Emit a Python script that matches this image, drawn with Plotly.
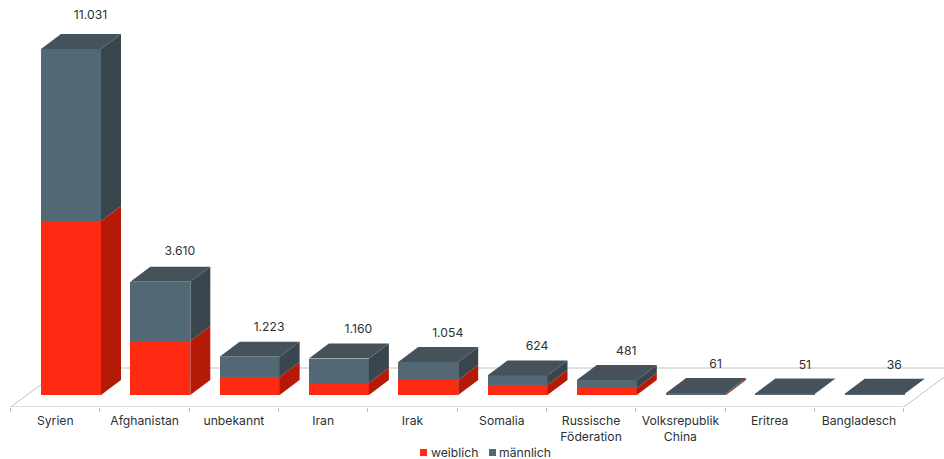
import plotly.graph_objects as go

# Asylum applications by country of origin, split by gender
categories = ["Syrien", "Afghanistan", "unbekannt", "Iran", "Irak", "Somalia",
              "Russische<br>Föderation", "Volksrepublik<br>China", "Eritrea", "Bangladesch"]
totals = [11031, 3610, 1223, 1160, 1054, 624, 481, 61, 51, 36]
weiblich = [5547, 1721, 574, 383, 478, 319, 223, 30, 25, 18]
maennlich = [t - w for t, w in zip(totals, weiblich)]

WIDTH, HEIGHT = 944, 459
FONT = "Inter, 'DejaVu Sans', sans-serif"
FONT_SIZE = 12.2
TEXT = "#2c3135"
GRID = "#c2c2c2"
RED_FRONT, RED_SIDE = "#ff2a12", "#b51a08"
BLUE_FRONT, BLUE_SIDE, BLUE_TOP = "#526874", "#3a464e", "#45525c"

# Axis scale: one category slot is 89.3 px, one application is 0.03137 px
PX_PER_CAT = 89.3
PX_PER_VAL = 0.03137
X_ORIGIN_PX = 55.3
AXIS_PX = 407
ZERO_PX = 395

x_min = -X_ORIGIN_PX / PX_PER_CAT
x_max = (WIDTH - X_ORIGIN_PX) / PX_PER_CAT
y_min = -(AXIS_PX - ZERO_PX) / PX_PER_VAL
y_max = ZERO_PX / PX_PER_VAL

# Oblique projection of the bars and the floor
bar_w = 60 / PX_PER_CAT
shift = 15.7 / PX_PER_CAT
dx = 20 / PX_PER_CAT
dy = 15 / PX_PER_VAL
positions = list(range(len(categories)))
centers = [p + shift for p in positions]

fig = go.Figure()
fig.add_bar(x=centers, y=weiblich, width=bar_w, name="weiblich",
            marker=dict(color=RED_FRONT, line_width=0))
fig.add_bar(x=centers, y=maennlich, width=bar_w, name="männlich",
            marker=dict(color=BLUE_FRONT, line_width=0))


def face(xs, ys, color):
    fig.add_scatter(x=xs, y=ys, mode="lines", fill="toself", fillcolor=color,
                    line=dict(width=0, color=color), hoverinfo="skip", showlegend=False)


for c, w, t in zip(centers, weiblich, totals):
    right = c + bar_w / 2
    left = c - bar_w / 2
    face([right, right + dx, right + dx, right, right], [0, dy, w + dy, w, 0], RED_SIDE)
    face([right, right + dx, right + dx, right, right], [w, w + dy, t + dy, t, w], BLUE_SIDE)
    face([left, left + dx, right + dx, right, left], [t, t + dy, t + dy, t, t], BLUE_TOP)

# Value labels above the back edge of each bar
label_x = [c + 19.5 / PX_PER_CAT for c in centers]
label_y = [t + dy + (12.7 + 5 * t / max(totals)) / PX_PER_VAL for t in totals]
label_text = [f"{t:,}".replace(",", ".") for t in totals]
fig.add_scatter(x=label_x, y=label_y, mode="text", text=label_text,
                textposition="middle center", hoverinfo="skip", showlegend=False,
                textfont=dict(family=FONT, size=FONT_SIZE, color=TEXT))


def floor_line(x0, y0, x1, y1):
    fig.add_shape(type="line", xref="x", yref="y", x0=x0, y0=y0, x1=x1, y1=y1,
                  layer="below", line=dict(color=GRID, width=1))


# Perspective floor behind the bars
back_y = (ZERO_PX - 368) / PX_PER_VAL
slot_l, slot_r = -0.5, len(categories) - 0.5
floor_line(slot_l, y_min, slot_r, y_min)
floor_line(slot_l, y_min, slot_l + 53 / PX_PER_CAT, back_y)
floor_line(slot_r, y_min, slot_r + 53 / PX_PER_CAT, back_y)
floor_line(slot_l + 53 / PX_PER_CAT, back_y, x_max, back_y)

# Legend row centred under the chart
for x_px, color, label, text_px in [(420, RED_FRONT, "weiblich", 430), (489, BLUE_FRONT, "männlich", 498)]:
    fig.add_shape(type="rect", xref="paper", yref="paper", line_width=0, fillcolor=color,
                  x0=x_px / WIDTH, x1=(x_px + 7) / WIDTH,
                  y0=(HEIGHT - 456) / HEIGHT, y1=(HEIGHT - 449) / HEIGHT)
    fig.add_annotation(xref="paper", yref="paper", x=text_px / WIDTH, y=(HEIGHT - 452.5) / HEIGHT,
                       text=label, showarrow=False, xanchor="left", yanchor="middle", xshift=-1,
                       font=dict(family=FONT, size=FONT_SIZE, color=TEXT))

fig.update_layout(
    width=WIDTH, height=HEIGHT, autosize=False, barmode="stack", bargap=0,
    margin=dict(l=0, r=0, t=0, b=0, pad=0),
    paper_bgcolor="white", plot_bgcolor="white", showlegend=False,
    font=dict(family=FONT, size=FONT_SIZE, color=TEXT),
    xaxis=dict(range=[x_min, x_max], tickmode="array", tickvals=positions, ticktext=categories,
               showgrid=False, zeroline=False, showline=False,
               ticks="outside", ticklen=2, tickcolor="rgba(0,0,0,0)",
               minor=dict(tickmode="array", tickvals=[p - 0.5 for p in positions] + [slot_r],
                          ticks="outside", ticklen=4, tickcolor=GRID, showgrid=False),
               tickfont=dict(family=FONT, size=FONT_SIZE, color=TEXT)),
    yaxis=dict(range=[y_min, y_max], domain=[(HEIGHT - AXIS_PX) / HEIGHT, 1],
               visible=False, showgrid=False, zeroline=False),
)

fig.write_html("out.html", config={"displayModeBar": False})
